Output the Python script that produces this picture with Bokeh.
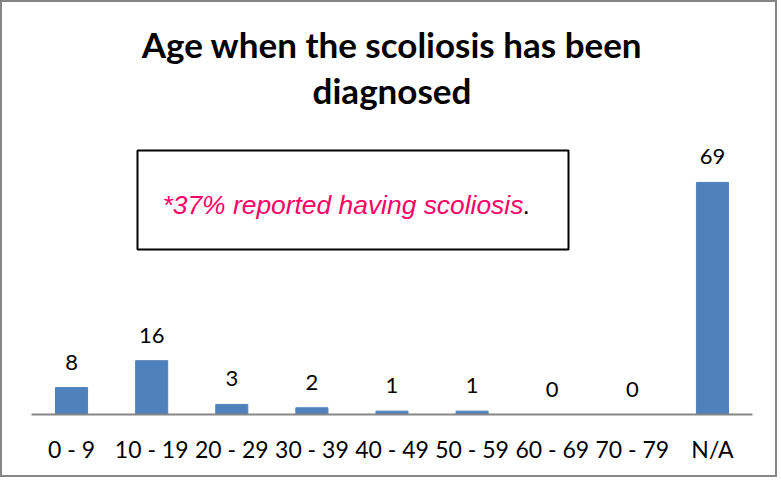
from bokeh.plotting import figure
from bokeh.models import ColumnDataSource, FactorRange, Range1d, LabelSet, BoxAnnotation
from bokeh.core.properties import value
from bokeh.embed import file_html
from bokeh.resources import INLINE

# ---- data ----
categories = ["0 - 9", "10 - 19", "20 - 29", "30 - 39", "40 - 49",
              "50 - 59", "60 - 69", "70 - 79", "N/A"]
counts = [8, 16, 3, 2, 1, 1, 0, 0, 69]
count_labels = [str(c) for c in counts]
title_lines = ["Age when the scoliosis has been", "diagnosed"]
note_text = "*37% reported having scoliosis"
note_end = "."

# ---- layout ----
BORDER = 2
W, H = 781 - 2 * BORDER, 481 - 2 * BORDER
LEFT, RIGHT, BOTTOM = 29, 27, 65
FRAME_H = H - BOTTOM
Y_END = 122.5
PX = FRAME_H / Y_END
FRAME_W = W - LEFT - RIGHT
CAT_PX = FRAME_W / len(categories)


def yd(py):
    return (FRAME_H - (py - BORDER)) / PX


def xd(px):
    return (px - BORDER - LEFT) / CAT_PX


BLUE = "#4F81BD"
PINK = "#FF0066"

source = ColumnDataSource(dict(cat=categories, n=counts, lab=count_labels))

p = figure(width=W, height=H, x_range=FactorRange(*categories),
           y_range=Range1d(0, Y_END), output_backend="svg",
           toolbar_location=None, min_border_left=LEFT, min_border_right=RIGHT,
           min_border_top=0, min_border_bottom=BOTTOM,
           styles={"border": "2px solid #868686"})
p.outline_line_color = None
p.xgrid.visible = False
p.ygrid.visible = False
p.yaxis.visible = False

p.vbar(x="cat", top="n", width=0.4, source=source,
       fill_color=BLUE, line_color=BLUE)

p.add_layout(LabelSet(x="cat", y="n", text="lab", source=source,
                      text_align="center", text_baseline="alphabetic",
                      y_offset=18, text_font=value("Lato"),
                      text_font_size="22px", text_color="black"))

ax = p.xaxis[0]
ax.axis_line_color = "#868686"
ax.axis_line_width = 2
ax.major_tick_line_color = None
ax.minor_tick_line_color = None
ax.major_label_text_font = "Lato"
ax.major_label_text_font_size = "23px"
ax.major_label_text_color = "black"
ax.major_label_standoff = 14

# title
title_src = ColumnDataSource(dict(x=[len(categories) / 2] * 2,
                                  y=[yd(43), yd(89)], t=title_lines))
p.text(x="x", y="y", text="t", source=title_src, text_align="center",
       text_baseline="alphabetic", text_font=value("Lato"),
       text_font_style="bold", text_font_size="35px", text_color="black")

# note box
p.add_layout(BoxAnnotation(left=xd(137), right=xd(568), top=yd(150), bottom=yd(249),
                           fill_color=None, line_color="black", line_alpha=1,
                           line_width=2))
p.text(x=[xd(162)], y=[yd(204)], text=[note_text], text_align="left",
       text_baseline="alphabetic", text_font=value("Liberation Sans"),
       text_font_style="italic", text_font_size="26.4px", text_color=PINK)
p.text(x=[xd(522)], y=[yd(204)], text=[note_end], text_align="left",
       text_baseline="alphabetic", text_font=value("Liberation Sans"),
       text_font_size="26.4px", text_color="black")

open("out.html", "w").write(file_html(p, INLINE))
